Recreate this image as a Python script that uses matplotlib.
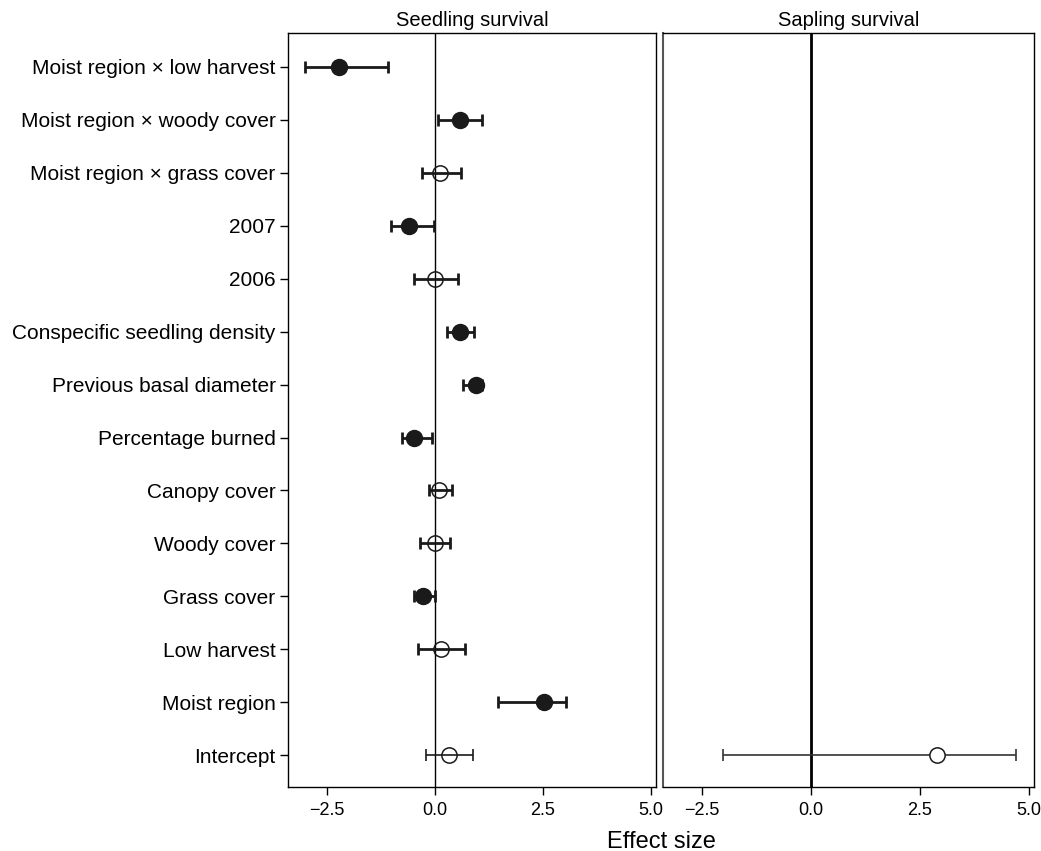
import matplotlib
matplotlib.use("Agg")
import matplotlib.pyplot as plt

plt.rcParams['font.family'] = ['Liberation Sans', 'DejaVu Sans']

labels = ["Moist region \u00d7 low harvest", "Moist region \u00d7 woody cover",
          "Moist region \u00d7 grass cover", "2007", "2006",
          "Conspecific seedling density", "Previous basal diameter",
          "Percentage burned", "Canopy cover", "Woody cover", "Grass cover",
          "Low harvest", "Moist region", "Intercept"]
seed_est = [-2.22, 0.58, 0.12, -0.60, 0.00, 0.58, 0.95, -0.48, 0.10, 0.00, -0.27, 0.14, 2.52, 0.32]
seed_lo = [-3.00, 0.07, -0.30, -1.02, -0.48, 0.28, 0.66, -0.76, -0.14, -0.35, -0.48, -0.40, 1.47, -0.21]
seed_hi = [-1.09, 1.09, 0.60, -0.02, 0.53, 0.90, 1.08, -0.07, 0.39, 0.35, 0.00, 0.69, 3.04, 0.89]
seed_sig = [True, True, False, True, False, True, True, True, False, False, True, False, True, False]

sap_est = [2.90]
sap_lo = [-2.03]
sap_hi = [4.70]

xticks = [-2.5, 0.0, 2.5, 5.0]

fig = plt.figure(figsize=(10.41, 8.51), dpi=100)
ax1 = fig.add_axes([0.2767, 0.0752, 0.3535, 0.886])
ax2 = fig.add_axes([0.6369, 0.0752, 0.3564, 0.886])

n = len(labels)
ypos = [n - i for i in range(n)]

ax1.axvline(0, color='black', lw=1.0, zorder=1)
for i in range(n):
    y = ypos[i]
    lw = 1.2 if labels[i] == "Intercept" else 2.0
    ax1.errorbar([seed_est[i]], [y],
                 xerr=[[seed_est[i] - seed_lo[i]], [seed_hi[i] - seed_est[i]]],
                 fmt='none', ecolor='#1a1a1a', elinewidth=lw, capsize=4.5,
                 capthick=lw, zorder=2)
    if seed_sig[i]:
        ax1.plot(seed_est[i], y, 'o', ms=11.5, mfc='#1a1a1a', mec='#1a1a1a', zorder=3)
    else:
        ax1.plot(seed_est[i], y, 'o', ms=11, mfc='none', mec='#1a1a1a', mew=1.1, zorder=3)

ax2.axvline(0, color='black', lw=2.0, zorder=1)
ax2.errorbar(sap_est, [1], xerr=[[sap_est[0] - sap_lo[0]], [sap_hi[0] - sap_est[0]]],
             fmt='none', ecolor='#333333', elinewidth=1.2, capsize=4.5, capthick=1.2, zorder=2)
ax2.plot(sap_est, [1], 'o', ms=11, mfc='white', mec='#1a1a1a', mew=1.1, zorder=3)

for ax in (ax1, ax2):
    ax.set_xlim(-3.4, 5.12)
    ax.set_ylim(0.4, 14.64)
    ax.set_xticks(xticks)
    ax.set_xticklabels([f"{t:.1f}".replace('-', '\u2212') for t in xticks], fontsize=13)
    ax.tick_params(axis='x', direction='out', length=6, width=1, pad=5)
    for s in ax.spines.values():
        s.set_linewidth(1.0)
ax2.spines['left'].set_color('#555555')
ax2.spines['left'].set_linewidth(1.5)

ax1.set_yticks(ypos)
ax1.set_yticklabels(labels, fontsize=15)
ax1.tick_params(axis='y', direction='out', length=6, width=1, pad=3)
ax2.set_yticks([])

ax1.set_title("Seedling survival", fontsize=14.5, pad=5)
ax2.set_title("Sapling survival", fontsize=14.5, pad=5)
fig.text(0.635, -0.002, "Effect size", ha='center', va='bottom', fontsize=17)

fig.savefig("out.png", dpi=100)
